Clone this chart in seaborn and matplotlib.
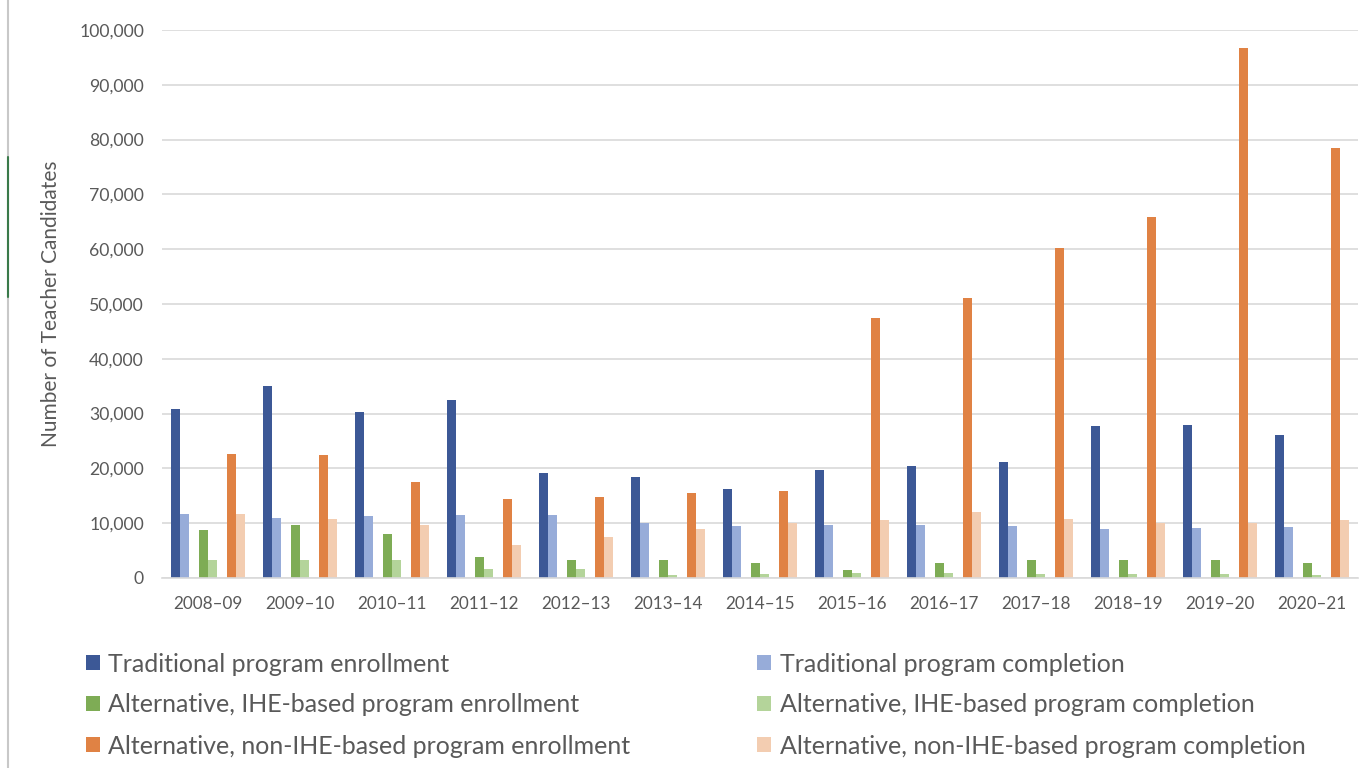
import matplotlib
matplotlib.use("Agg")
import matplotlib.pyplot as plt
from matplotlib.patches import Patch
from matplotlib.lines import Line2D
import matplotlib.ticker as mticker
import pandas as pd
import seaborn as sns

# School years
years = ["2008–09", "2009–10", "2010–11", "2011–12", "2012–13", "2013–14", "2014–15",
         "2015–16", "2016–17", "2017–18", "2018–19", "2019–20", "2020–21"]

# Number of teacher candidates per program type
trad_enroll = [30800, 35000, 30300, 32500, 19200, 18400, 16300, 19700, 20500, 21200, 27700, 28000, 26100]
trad_complete = [11700, 11000, 11400, 11500, 11500, 10000, 9500, 9600, 9600, 9500, 8900, 9100, 9300]
ihe_enroll = [8800, 9600, 8100, 3800, 3300, 3300, 2700, 1500, 2700, 3300, 3200, 3300, 2700]
ihe_complete = [3300, 3200, 3200, 1700, 1700, 600, 800, 1000, 1000, 800, 800, 800, 600]
nonihe_enroll = [22700, 22500, 17600, 14400, 14800, 15500, 15800, 47500, 51100, 60300, 65900, 96700, 78500]
nonihe_complete = [11700, 10800, 9600, 6100, 7500, 9000, 10000, 10500, 12000, 10800, 10000, 10000, 10500]

series_names = [
    "Traditional program enrollment",
    "Traditional program completion",
    "Alternative, IHE-based program enrollment",
    "Alternative, IHE-based program completion",
    "Alternative, non-IHE-based program enrollment",
    "Alternative, non-IHE-based program completion",
]
series_values = [trad_enroll, trad_complete, ihe_enroll, ihe_complete, nonihe_enroll, nonihe_complete]
series_colors = ["#3C5896", "#97ACD9", "#7EAC55", "#B4D49A", "#E08244", "#F3CDB1"]

# Two empty slots separate the enrollment/completion pairs inside each year
gap1, gap2 = "_gap1", "_gap2"
hue_order = [series_names[0], series_names[1], gap1,
             series_names[2], series_names[3], gap2,
             series_names[4], series_names[5]]

rows = []
for name, vals in zip(series_names, series_values):
    for yr, v in zip(years, vals):
        rows.append({"year": yr, "series": name, "count": v})
for g in (gap1, gap2):
    for yr in years:
        rows.append({"year": yr, "series": g, "count": 0})
df = pd.DataFrame(rows)

palette = dict(zip(series_names, series_colors))
palette[gap1] = "white"
palette[gap2] = "white"

sns.set_theme(style="white")
plt.rcParams["font.family"] = ["Lato", "DejaVu Sans"]
text_color = "#595959"

fig = plt.figure(figsize=(13.62, 7.68), dpi=100)
ax = fig.add_axes([162 / 1362, 1 - 578 / 768, 1196 / 1362, 548 / 768])

sns.barplot(data=df, x="year", y="count", hue="series", hue_order=hue_order,
            order=years, palette=palette, width=0.81, dodge=True,
            legend=False, ax=ax, linewidth=0, saturation=1, errorbar=None)

ax.set_xlim(-0.5, len(years) - 0.5)
ax.set_ylim(0, 100000)
ax.yaxis.set_major_locator(mticker.MultipleLocator(10000))
ax.yaxis.set_major_formatter(mticker.FuncFormatter(lambda v, p: f"{int(v):,}"))
ax.grid(axis="y", color="#D9D9D9", linewidth=1.2)
ax.set_axisbelow(True)
for side in ("top", "right", "left"):
    ax.spines[side].set_visible(False)
ax.spines["bottom"].set_color("#D9D9D9")
ax.spines["bottom"].set_linewidth(1.2)

ax.tick_params(axis="y", length=0, pad=13, labelsize=12.7, labelcolor=text_color)
ax.tick_params(axis="x", length=0, pad=13, labelsize=12.3, labelcolor=text_color)
ax.set_xlabel("")
ax.set_ylabel("Number of Teacher Candidates", fontsize=15, color=text_color, labelpad=13)

# Legend in two columns: enrollment on the left, completion on the right
handles = [Patch(facecolor=c, edgecolor="none") for c in series_colors]
order = [0, 2, 4, 1, 3, 5]
fig.legend([handles[i] for i in order], [series_names[i] for i in order],
           ncol=2, loc="upper left", bbox_to_anchor=(63 / 1362, 1 - 630 / 768),
           frameon=False, fontsize=18, labelcolor=text_color,
           handlelength=0.56, handleheight=0.56, handletextpad=0.33,
           columnspacing=5.1, labelspacing=0.72)

# Window border on the left edge
fig.add_artist(Line2D([8 / 1362, 8 / 1362], [0, 1], transform=fig.transFigure,
                      color="#C8C8C8", linewidth=1.5))
fig.add_artist(Line2D([8 / 1362, 8 / 1362], [1 - 297 / 768, 1 - 157 / 768],
                      transform=fig.transFigure, color="#3A7A4A", linewidth=1.5))

fig.savefig("out.png", dpi=100)
